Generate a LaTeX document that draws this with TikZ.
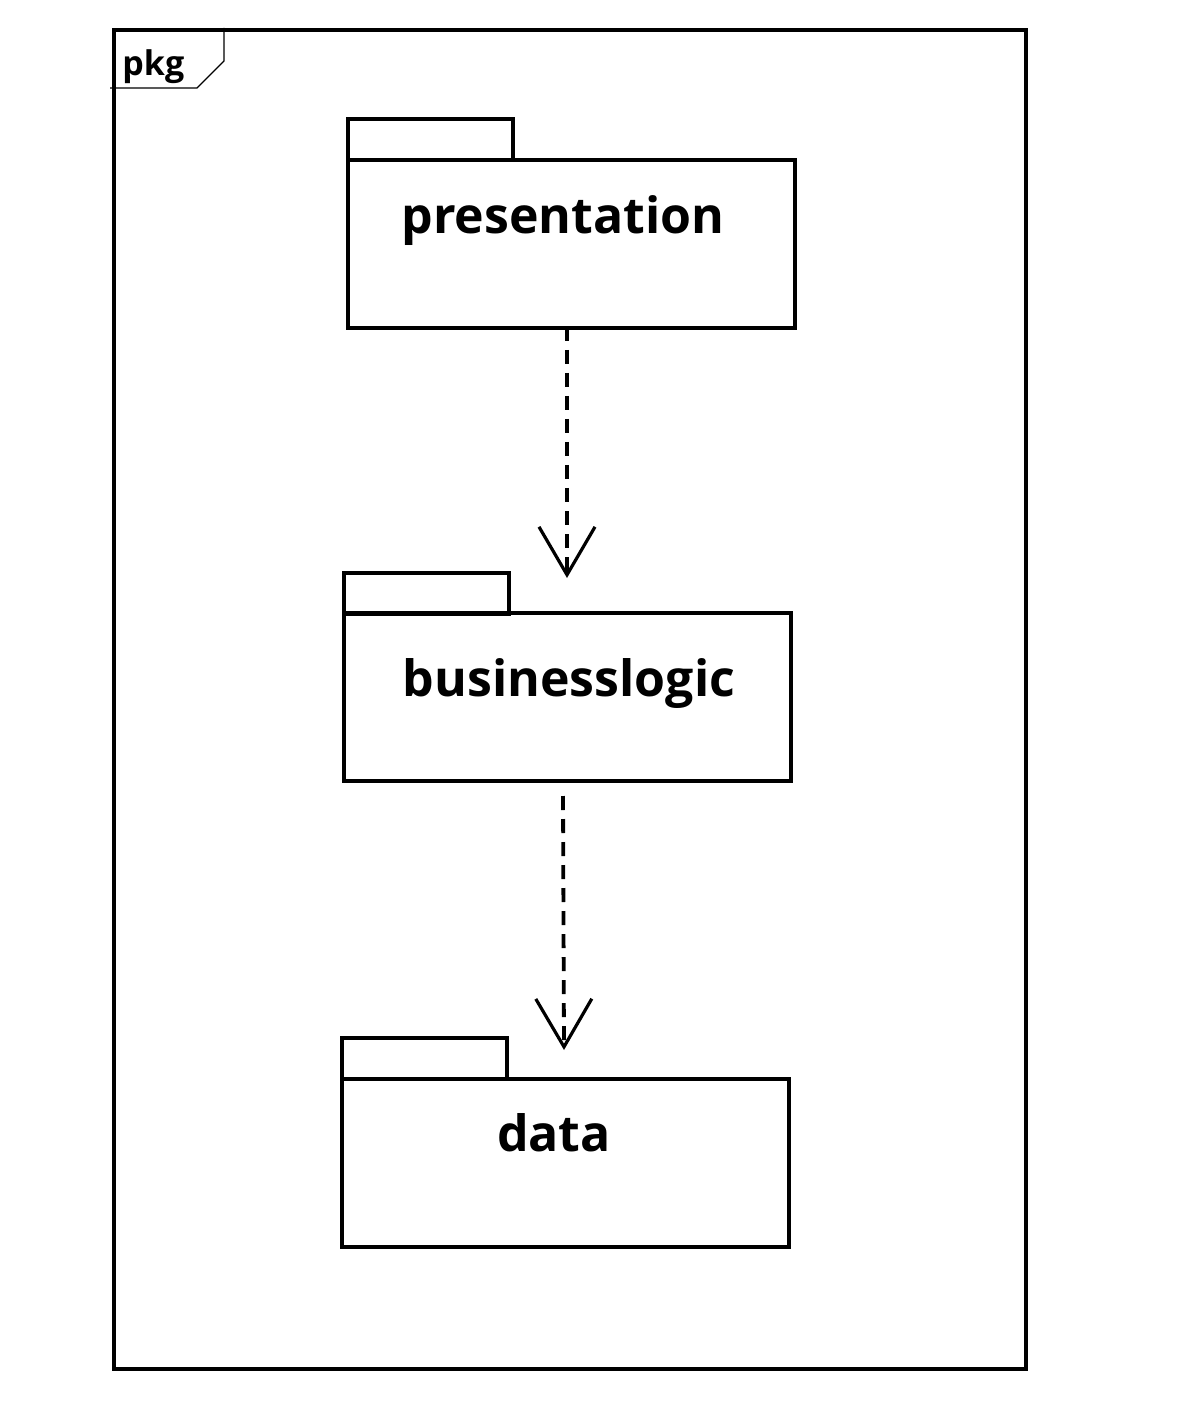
\documentclass[tikz,border=0pt]{standalone}
\usepackage{fontspec}
\setmainfont{Open Sans}
\usetikzlibrary{arrows.meta,positioning,calc}
\begin{document}
\begin{tikzpicture}[x=0.5pt,y=-0.5pt,
  frameline/.style={line width=1.8pt},
  thinline/.style={line width=0.6pt},
  tabbox/.style={draw,line width=1.9pt,minimum width=82.5pt,minimum height=20.5pt,anchor=north west,inner sep=0pt},
  bodybox/.style={draw,line width=1.9pt,minimum width=223.5pt,minimum height=84pt,anchor=north west,inner sep=0pt},
  pkgname/.style={font=\fontsize{25}{30}\selectfont\bfseries,inner sep=0pt},
  dep/.style={line width=1.9pt,dash pattern=on 7pt off 4.5pt,-{Straight Barb[length=24pt,width=28pt,line width=1.6pt]}}
]
\useasboundingbox (0,0) rectangle (1181,1416);
\fill[white] (0,0) rectangle (1181,1416);

% enclosing package frame
\node[draw,frameline,minimum width=456pt,minimum height=669.5pt,anchor=north west,inner sep=0pt] (frame) at (112,28) {};
\coordinate (lblA) at (110,88);
\coordinate (lblB) at (197,88);
\coordinate (lblC) at (224,61);
\coordinate (lblD) at (224,28);
\draw[thinline] (lblA) -- (lblB) -- (lblC) -- (lblD);
\node[font=\fontsize{17}{20}\selectfont\bfseries,anchor=base west,inner sep=0pt] (lbltext) at (122,76) {pkg};

% presentation
\node[tabbox] (ptab) at (346,117) {};
\node[bodybox] (pbody) at (346,158) {};
\node[pkgname,anchor=base] (ptext) at (563,234) {presentation};

% businesslogic
\node[tabbox] (btab) at (342,571) {};
\node[bodybox] (bbody) at (342,611) {};
\node[pkgname,anchor=base] (btext) at (569,696) {businesslogic};

% data
\node[tabbox] (dtab) at (340,1036) {};
\node[bodybox] (dbody) at (340,1077) {};
\node[pkgname,anchor=base] (dtext) at (554,1151) {data};

% dependencies
\coordinate (d1s) at (567,327);
\coordinate (d1e) at (567,578);
\coordinate (d2s) at (563,796);
\coordinate (d2e) at (564,1050);
\draw[dep] (d1s) -- (d1e);
\draw[dep] (d2s) -- (d2e);
\end{tikzpicture}
\end{document}
